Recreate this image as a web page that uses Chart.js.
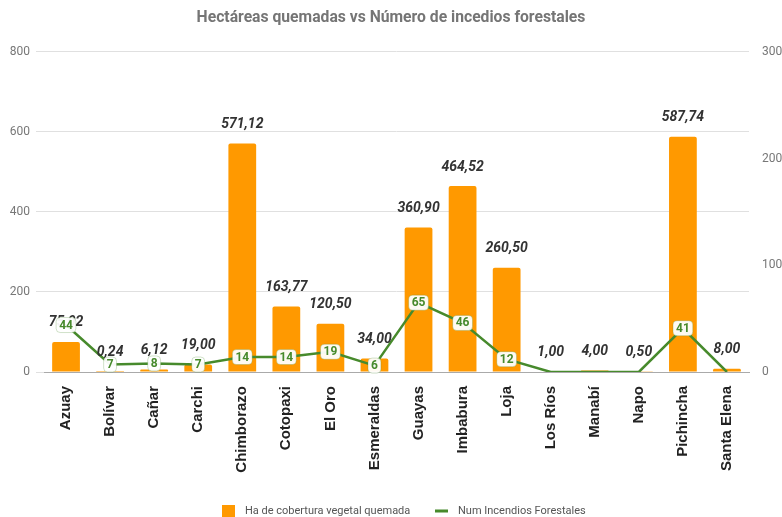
<!DOCTYPE html>
<html><head><meta charset="utf-8">
<script src="https://cdn.jsdelivr.net/npm/chart.js@4/dist/chart.umd.min.js"></script>
<style>html,body{margin:0;padding:0;background:#fff}#wrap{width:782px;height:517px}</style>
</head><body><div id="wrap"><canvas id="c" width="782" height="517"></canvas></div>
<script>
const categories = ["Azuay","Bolívar","Cañar","Carchi","Chimborazo","Cotopaxi","El Oro","Esmeraldas","Guayas","Imbabura","Loja","Los Ríos","Manabí","Napo","Pichincha","Santa Elena"];
const hectareas = [75.02,0.24,6.12,19.00,571.12,163.77,120.50,34.00,360.90,464.52,260.50,1.00,4.00,0.50,587.74,8.00];
const incendios = [44,7,8,7,14,14,19,6,65,46,12,0,0,0,41,0];
const leftTicks = [0,200,400,600,800];
const rightTicks = [0,100,200,300];

const ORANGE = '#ff9900', GREEN = '#478a2c';

const labelPlugin = {
  id:'labels',
  afterDatasetsDraw(chart){
    const ctx = chart.ctx;
    ctx.save();
    const bm = chart.getDatasetMeta(0);
    ctx.font = 'italic bold 14px Roboto';
    ctx.fillStyle = '#333';
    ctx.textAlign = 'center';
    ctx.textBaseline = 'middle';
    bm.data.forEach((el,i)=>{
      const t = hectareas[i].toFixed(2).replace('.',',');
      ctx.fillText(t, el.x, el.y - 19);
    });
    const lm = chart.getDatasetMeta(1);
    ctx.font = 'bold 12px Roboto';
    lm.data.forEach((el,i)=>{
      const v = incendios[i];
      if (!v) return;
      const t = String(v);
      const w = ctx.measureText(t).width + 6, h = 15;
      ctx.beginPath();
      ctx.roundRect(el.x - w/2, el.y - h/2, w, h, 4);
      ctx.fillStyle = 'rgba(255,255,255,0.95)';
      ctx.fill();
      ctx.strokeStyle = 'rgba(71,138,44,0.25)';
      ctx.lineWidth = 1;
      ctx.stroke();
      ctx.fillStyle = GREEN;
      ctx.fillText(t, el.x, el.y + 0.5);
    });
    ctx.restore();
  },
  afterDraw(chart){
    const ctx = chart.ctx;
    const ds = chart.data.datasets;
    ctx.save();
    ctx.font = '11px Roboto';
    ctx.textBaseline = 'middle';
    ctx.textAlign = 'left';
    const y = 511;
    ctx.fillStyle = ds[0].backgroundColor;
    ctx.fillRect(222, 505, 13, 13);
    ctx.fillStyle = '#555';
    ctx.fillText(ds[0].label, 245, y);
    ctx.fillStyle = ds[1].borderColor;
    ctx.fillRect(435, y - 1.5, 13, 3);
    ctx.fillStyle = '#555';
    ctx.fillText(ds[1].label, 458, y);
    ctx.restore();
  }
};

new Chart(document.getElementById('c'), {
  data:{
    labels: categories,
    datasets:[
      {type:'bar', label:'Ha de cobertura vegetal quemada', data:hectareas, backgroundColor:ORANGE, borderRadius:2, barPercentage:0.63, categoryPercentage:1, yAxisID:'y', order:1},
      {type:'line', label:'Num Incendios Forestales', data:incendios, borderColor:GREEN, backgroundColor:GREEN, borderWidth:2.5, pointRadius:0, tension:0, yAxisID:'y1', order:0}
    ]
  },
  options:{
    responsive:false, animation:false, devicePixelRatio:1,
    layout:{padding:{left:0,right:0,top:0,bottom:27}},
    plugins:{
      title:{display:true, text:'Hectáreas quemadas vs Número de incedios forestales', color:'#757575', font:{family:'Roboto', size:15.7, weight:'bold'}, padding:{top:9, bottom:24}},
      legend:{display:false},
      tooltip:{enabled:false}
    },
    scales:{
      x:{grid:{display:false}, border:{display:true, color:'#aaa', width:1},
         ticks:{maxRotation:90, minRotation:90, autoSkip:false, color:'#222', font:{family:'Liberation Sans', size:15, weight:'bold'}, padding:6},
         afterFit(s){ s.height = 118; }},
      y:{position:'left', min:0, max:800, afterBuildTicks(s){ s.ticks = leftTicks.map(v=>({value:v})); },
         grid:{color:'#e0e0e0', lineWidth:1, tickLength:8, tickColor:'#e0e0e0'}, border:{display:false},
         ticks:{color:'#777', font:{family:'Roboto', size:12}, padding:6},
         afterFit(s){ s.width = 44; }},
      y1:{position:'right', min:0, max:300, afterBuildTicks(s){ s.ticks = rightTicks.map(v=>({value:v})); },
         grid:{display:false}, border:{display:false},
         ticks:{color:'#777', font:{family:'Roboto', size:12}, padding:5},
         afterFit(s){ s.width = 33; }}
    }
  },
  plugins:[labelPlugin]
});
</script></body></html>
